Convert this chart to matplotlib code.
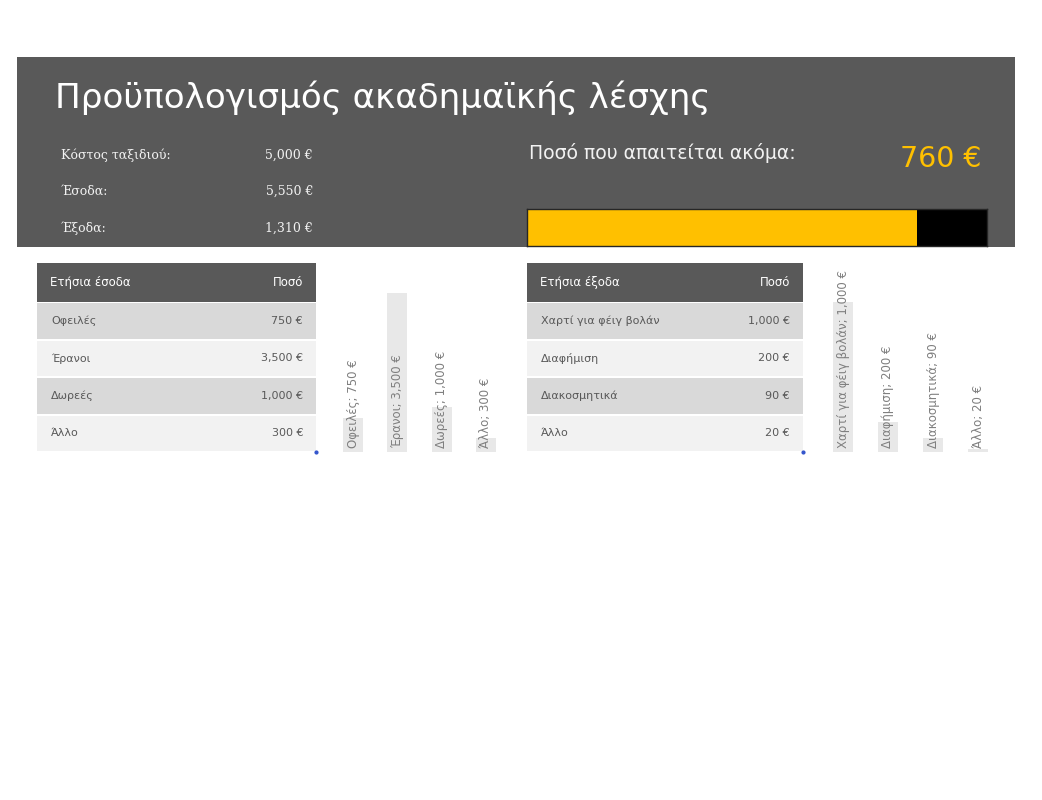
import matplotlib.pyplot as plt
from matplotlib.patches import Rectangle

plt.rcParams['font.family'] = ['DejaVu Sans']

# Data
title = 'Προϋπολογισμός ακαδημαϊκής λέσχης'
summary_labels = ['Κόστος ταξιδιού:', 'Έσοδα:', 'Έξοδα:']
trip_cost = 5000

income_header = ['Ετήσια έσοδα', 'Ποσό']
income_items = ['Οφειλές', 'Έρανοι', 'Δωρεές', 'Άλλο']
income_values = [750, 3500, 1000, 300]

expense_header = ['Ετήσια έξοδα', 'Ποσό']
expense_items = ['Χαρτί για φέιγ βολάν', 'Διαφήμιση', 'Διακοσμητικά', 'Άλλο']
expense_values = [1000, 200, 90, 20]

remaining_label = 'Ποσό που απαιτείται ακόμα:'

total_income = sum(income_values)
total_expense = sum(expense_values)
summary_values = [trip_cost, total_income, total_expense]
saved = total_income - total_expense
remaining = trip_cost - saved


def euro(v):
    return f'{v:,} €'


W, H = 1042, 800
DARK = '#595959'
YELLOW = '#ffc000'
ROW_COLORS = ['#d9d9d9', '#f2f2f2']
TXT = '#595959'

fig = plt.figure(figsize=(W / 100, H / 100), dpi=100)
ax = fig.add_axes([0, 0, 1, 1])
ax.set_xlim(0, W)
ax.set_ylim(H, 0)
ax.axis('off')


def fig_rect(x0, y0, x1, y1):
    # pixel box (top-left origin) -> figure fraction rect
    return [x0 / W, 1 - y1 / H, (x1 - x0) / W, (y1 - y0) / H]


# header band
ax.add_patch(Rectangle((17, 57), 998, 190, color=DARK, lw=0))
ax.text(55, 108, title, color='white', fontsize=24.6, va='baseline', ha='left')

for i, (lab, val) in enumerate(zip(summary_labels, summary_values)):
    y = 155 + i * 36.5
    ax.text(61, y, lab, color='#f2f2f2', fontsize=9, va='center', family='DejaVu Serif')
    ax.text(313, y, euro(val), color='#f2f2f2', fontsize=9, va='center', ha='right',
            family='DejaVu Serif')

ax.text(529, 153, remaining_label, color='#f2f2f2', fontsize=13.6, va='center')
ax.text(982, 159, euro(remaining), color=YELLOW, fontsize=20.5, va='center', ha='right')

# progress bar
pax = fig.add_axes(fig_rect(527, 209, 987, 246))
pax.set_facecolor('black')
pax.barh([0], [saved], height=1, color=YELLOW, edgecolor='none')
pax.set_xlim(0, trip_cost)
pax.set_ylim(-0.5, 0.5)
pax.set_xticks([])
pax.set_yticks([])
for s in pax.spines.values():
    s.set_color('#262626')
    s.set_linewidth(1)


def draw_table(x0, x1, header, items, values):
    top, head_h, row_h = 263, 39, 37.5
    ax.add_patch(Rectangle((x0, top), x1 - x0, head_h, color=DARK, lw=0))
    hy = top + head_h / 2
    ax.text(x0 + 13, hy, header[0], color='white', fontsize=8.5, va='center')
    ax.text(x1 - 13, hy, header[1], color='white', fontsize=8.5, va='center', ha='right')
    for i, (name, val) in enumerate(zip(items, values)):
        y = top + head_h + i * row_h
        ax.add_patch(Rectangle((x0, y + 1), x1 - x0, row_h - 2,
                               color=ROW_COLORS[i % 2], lw=0))
        cy = y + row_h / 2
        ax.text(x0 + 14, cy, name, color=TXT, fontsize=8, va='center')
        ax.text(x1 - 13, cy, euro(val), color=TXT, fontsize=8, va='center', ha='right')
    bottom = top + head_h + len(items) * row_h
    ax.plot([x1], [bottom], marker='o', ms=2, color='#3355cc')


draw_table(37, 316, income_header, income_items, income_values)
draw_table(527, 803, expense_header, expense_items, expense_values)


def bar_chart(x0, x1, y_top, ymax, items, values):
    bax = fig.add_axes(fig_rect(x0, y_top, x1, 452))
    xs = range(len(items))
    bax.bar(xs, values, width=0.45, color='#e8e8e8', edgecolor='none')
    for x, name, val in zip(xs, items, values):
        bax.text(x, ymax * 0.02, f'{name}; {euro(val)}', rotation=90,
                 ha='center', va='bottom', fontsize=8.5, color='#7f7f7f')
    bax.set_xlim(-0.5, len(items) - 0.5)
    bax.set_ylim(0, ymax)
    bax.axis('off')


bar_chart(331, 508, 270.4, 4000, income_items, income_values)
bar_chart(820.5, 1000.5, 272, 1200, expense_items, expense_values)

fig.savefig('out.png', dpi=100)
